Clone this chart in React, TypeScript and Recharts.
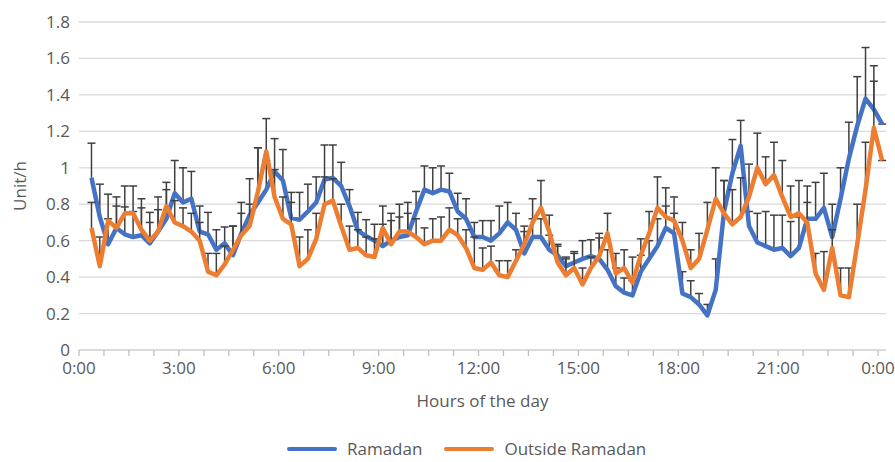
import { CartesianGrid, ComposedChart, ErrorBar, Line, XAxis, YAxis } from 'recharts'

// 15-minute slots (first slot sits at ~0:22)
const ramadan = [
  0.945, 0.73, 0.58, 0.67, 0.635, 0.62, 0.63, 0.585, 0.65, 0.72, 0.86, 0.81,
  0.83, 0.65, 0.635, 0.55, 0.585, 0.52, 0.64, 0.74, 0.81, 0.88, 0.98, 0.93,
  0.725, 0.715, 0.76, 0.81, 0.935, 0.945, 0.9, 0.79, 0.655, 0.625, 0.6, 0.57,
  0.6, 0.62, 0.63, 0.76, 0.88, 0.86, 0.88, 0.87, 0.76, 0.72, 0.62, 0.62,
  0.6, 0.64, 0.7, 0.66, 0.53, 0.62, 0.62, 0.55, 0.52, 0.46, 0.48, 0.5,
  0.515, 0.5, 0.44, 0.35, 0.315, 0.3, 0.43, 0.5, 0.57, 0.67, 0.64, 0.31,
  0.29, 0.25, 0.19, 0.33, 0.76, 0.97, 1.12, 0.68, 0.59, 0.57, 0.55, 0.56,
  0.515, 0.56, 0.72, 0.72, 0.78, 0.62, 0.83, 1.05, 1.23, 1.38, 1.32, 1.24,
]
const outside = [
  0.67, 0.46, 0.71, 0.67, 0.75, 0.75, 0.66, 0.6, 0.65, 0.79, 0.7, 0.68,
  0.65, 0.6, 0.43, 0.41, 0.47, 0.55, 0.63, 0.68, 0.87, 1.09, 0.84, 0.72,
  0.69, 0.46, 0.5, 0.61, 0.8, 0.82, 0.68, 0.55, 0.56, 0.52, 0.51, 0.67,
  0.58, 0.65, 0.65, 0.62, 0.58, 0.6, 0.6, 0.66, 0.63, 0.56, 0.45, 0.44,
  0.48, 0.41, 0.4, 0.49, 0.58, 0.7, 0.78, 0.65, 0.48, 0.41, 0.45, 0.36,
  0.45, 0.515, 0.64, 0.42, 0.45, 0.37, 0.52, 0.64, 0.78, 0.73, 0.71, 0.6,
  0.45, 0.5, 0.66, 0.83, 0.75, 0.69, 0.73, 0.84, 1.0, 0.91, 0.96, 0.84,
  0.73, 0.75, 0.7, 0.42, 0.33, 0.56, 0.3, 0.29, 0.58, 0.88, 1.22, 1.04,
]
// upper error only (Excel "plus" bars)
const ramadanErr = [
  0.19, 0.18, 0.14, 0.17, 0.15, 0.14, 0.2, 0.17, 0.19, 0.16, 0.18, 0.19,
  0.15, 0.14, 0.12, 0.11, 0.09, 0.16, 0.17, 0.2, 0.3, 0.16, 0.18, 0.17,
  0.14, 0.15, 0.15, 0.14, 0.19, 0.18, 0.13, 0.09, 0.1, 0.09, 0.09, 0.12,
  0.15, 0.18, 0.18, 0.11, 0.13, 0.14, 0.13, 0.1, 0.1, 0.11, 0.08, 0.09,
  0.11, 0.15, 0.11, 0.09, 0.12, 0.1, 0.1, 0.08, 0.06, 0.05, 0.06, 0.1,
  0.09, 0.14, 0.11, 0.1, 0.08, 0.08, 0.09, 0.1, 0.15, 0.12, 0.11, 0.12,
  0.09, 0.06, 0.06, 0.17, 0.17, 0.185, 0.14, 0.08, 0.16, 0.19, 0.19, 0.18,
  0.19, 0.17, 0.18, 0.2, 0.19, 0.18, 0.17, 0.2, 0.27, 0.28, 0.155, 0,
]
const outsideErr = [
  0.14, 0.16, 0.145, 0.12, 0.15, 0.15, 0.12, 0.1, 0.12, 0.13, 0.12, 0.1,
  0.1, 0.1, 0.1, 0.12, 0.1, 0.13, 0.12, 0.12, 0.24, 0.18, 0.15, 0.12,
  0.12, 0.16, 0.16, 0.14, 0.15, 0.12, 0.12, 0.13, 0.1, 0.1, 0.1, 0.12,
  0.13, 0.08, 0.1, 0.1, 0.09, 0.12, 0.13, 0.12, 0.09, 0.1, 0.17, 0.12,
  0.09, 0.08, 0.09, 0.06, 0.1, 0.13, 0.15, 0.09, 0.09, 0.09, 0.08, 0.09,
  0.06, 0.1, 0.11, 0.11, 0.1, 0.14, 0.09, 0.12, 0.17, 0.16, 0.13, 0.1,
  0.1, 0.14, 0.15, 0.17, 0.18, 0.19, 0.215, 0.18, 0.19, 0.15, 0.18, 0.2,
  0.17, 0.18, 0.11, 0.11, 0.21, 0.1, 0.15, 0.16, 0.22, 0.26, 0.34, 0,
]

const hourTicks = Array.from({ length: 33 }, (_, i) => i * 0.75)
const hourLabels = ['0:00', '3:00', '6:00', '9:00', '12:00', '15:00', '18:00', '21:00', '0:00']
const yTicks = [0, 0.2, 0.4, 0.6, 0.8, 1, 1.2, 1.4, 1.6, 1.8]
const seriesNames = ['Ramadan', 'Outside Ramadan']
const seriesColors = ['#4472C4', '#ED7D31']

const data = ramadan.map((v, i) => ({
  hour: 0.375 + i * 0.25,
  ramadan: v,
  outside: outside[i],
  rErr: [0, ramadanErr[i]],
  oErr: [0, outsideErr[i]],
}))

const FONT = "'Open Sans', 'Noto Sans', sans-serif"
const TEXT = '#595959'

function hourLabel(v: number) {
  const idx = Math.round(v / 0.75)
  return idx % 4 === 0 ? hourLabels[idx / 4] : ''
}

export default function App() {
  return (
    <div style={{ position: 'absolute', left: 0, top: 0, width: 895, height: 462, background: '#fff' }}>
      <style>{`.recharts-errorBar line:nth-of-type(3){display:none}`}</style>
      <ComposedChart
        width={895}
        height={462}
        data={data}
        margin={{ top: 22, right: 9, bottom: 81, left: 0 }}
      >
        <CartesianGrid vertical={false} stroke="#d9d9d9" strokeWidth={1.3} />
        <XAxis
          type="number"
          dataKey="hour"
          domain={[0, 24.24]}
          ticks={hourTicks}
          interval={0}
          allowDataOverflow
          tickFormatter={hourLabel}
          height={31}
          tickSize={6}
          tickMargin={6}
          axisLine={{ stroke: '#d9d9d9', strokeWidth: 1.3 }}
          tickLine={{ stroke: '#bfbfbf', strokeWidth: 1.3 }}
          tick={{ fill: TEXT, fontSize: 17, fontFamily: FONT }}
          label={{
            content: ({ viewBox }: any) => (
              <text
                x={viewBox.x + viewBox.width / 2}
                y={viewBox.y + 57}
                textAnchor="middle"
                fill={TEXT}
                fontSize={17}
                fontFamily={FONT}
              >
                Hours of the day
              </text>
            ),
          }}
        />
        <YAxis
          domain={[0, 1.8]}
          ticks={yTicks}
          width={79}
          axisLine={false}
          tickLine={false}
          tickSize={0}
          tickMargin={9}
          tickFormatter={(v: number) => String(Math.round(v * 10) / 10)}
          tick={{ fill: TEXT, fontSize: 17, fontFamily: FONT }}
          label={{
            content: ({ viewBox }: any) => (
              <text
                x={26}
                y={viewBox.y + viewBox.height / 2}
                transform={`rotate(-90 26 ${viewBox.y + viewBox.height / 2})`}
                textAnchor="middle"
                fill={TEXT}
                fontSize={17}
                fontFamily={FONT}
              >
                Unit/h
              </text>
            ),
          }}
        />
        <Line
          dataKey="ramadan"
          name={seriesNames[0]}
          stroke={seriesColors[0]}
          strokeWidth={4.5}
          strokeLinejoin="round"
          dot={false}
          activeDot={false}
          isAnimationActive={false}
        >
          <ErrorBar dataKey="rErr" direction="y" width={4} stroke="#404040" strokeWidth={1.5} isAnimationActive={false} />
        </Line>
        <Line
          dataKey="outside"
          name={seriesNames[1]}
          stroke={seriesColors[1]}
          strokeWidth={4.5}
          strokeLinejoin="round"
          dot={false}
          activeDot={false}
          isAnimationActive={false}
        >
          <ErrorBar dataKey="oErr" direction="y" width={4} stroke="#404040" strokeWidth={1.5} isAnimationActive={false} />
        </Line>
      </ComposedChart>
      <div
        style={{
          position: 'absolute',
          left: 287,
          top: 439,
          height: 20,
          display: 'flex',
          alignItems: 'center',
          fontFamily: FONT,
          fontSize: 17,
          lineHeight: '20px',
          color: TEXT,
          whiteSpace: 'nowrap',
        }}
      >
        {seriesNames.map((name, i) => (
          <div key={name} style={{ display: 'flex', alignItems: 'center', marginLeft: i ? 22 : 0 }}>
            <span
              style={{
                display: 'inline-block',
                width: 50,
                height: 4.5,
                borderRadius: 2,
                background: seriesColors[i],
                marginRight: 10,
              }}
            />
            <span>{name}</span>
          </div>
        ))}
      </div>
    </div>
  )
}
